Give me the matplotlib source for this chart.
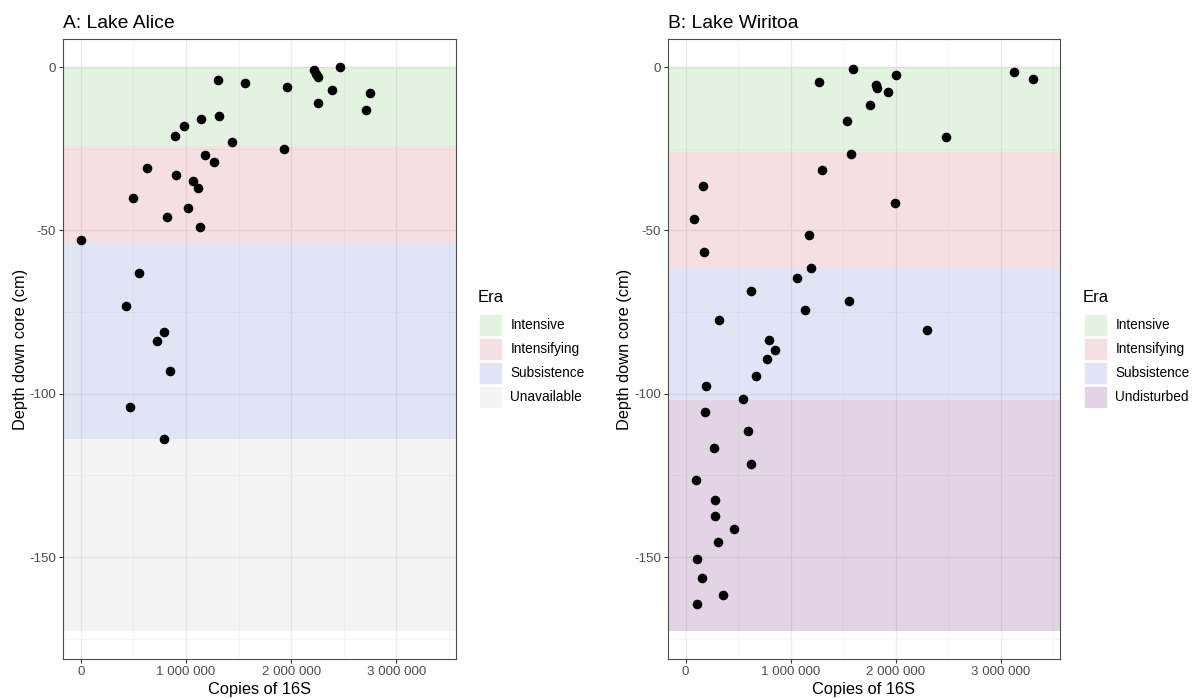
import matplotlib.pyplot as plt
from matplotlib.patches import Patch
from matplotlib.ticker import FuncFormatter, MultipleLocator

plt.rcParams['font.family'] = ['Liberation Sans', 'DejaVu Sans']
plt.rcParams['axes.unicode_minus'] = False

# Lake Alice core: 16S copies vs depth
alice_copies = [0, 1.30e6, 1.565e6, 1.965e6, 2.216e6, 2.238e6, 2.26e6, 2.467e6, 2.393e6,
                2.755e6, 2.254e6, 2.711e6, 1.311e6, 1.14e6, 0.978e6, 0.898e6, 1.441e6,
                1.93e6, 1.181e6, 1.267e6, 0.629e6, 0.908e6, 1.063e6, 1.117e6, 0.498e6,
                1.022e6, 0.822e6, 1.133e6, 0.549e6, 0.425e6, 0.79e6, 0.724e6, 0.845e6,
                0.467e6, 0.787e6]
alice_depth = [-53, -4, -5, -6, -1, -2, -3, 0, -7, -8, -11, -13, -15, -16, -18, -21, -23,
               -25, -27, -29, -31, -33, -35, -37, -40, -43, -46, -49, -63, -73, -81, -84,
               -93, -104, -114]

# Lake Wiritoa core
wiritoa_copies = [1.596e6, 1.27e6, 2.003e6, 1.815e6, 1.822e6, 1.924e6, 1.755e6, 1.539e6,
                  2.479e6, 3.13e6, 3.307e6, 1.577e6, 1.298e6, 0.162e6, 1.99e6, 0.076e6,
                  1.177e6, 0.171e6, 1.193e6, 1.06e6, 0.619e6, 1.558e6, 1.133e6, 0.32e6,
                  2.298e6, 0.793e6, 0.85e6, 0.777e6, 0.666e6, 0.196e6, 0.546e6, 0.187e6,
                  0.59e6, 0.272e6, 0.619e6, 0.095e6, 0.282e6, 0.279e6, 0.463e6, 0.307e6,
                  0.111e6, 0.152e6, 0.352e6, 0.111e6]
wiritoa_depth = [-0.5, -4.5, -2.5, -5.5, -6.5, -7.5, -11.5, -16.5, -21.5, -1.5, -3.5, -26.5,
                 -31.5, -36.5, -41.5, -46.5, -51.5, -56.5, -61.5, -64.5, -68.5, -71.5, -74.5,
                 -77.5, -80.5, -83.5, -86.5, -89.5, -94.5, -97.5, -101.5, -105.5, -111.5,
                 -116.5, -121.5, -126.5, -132.5, -137.5, -141.5, -145.5, -150.5, -156.5,
                 -161.5, -164.5]

# Era bands (top, bottom) in cm
alice_eras = ['Intensive', 'Intensifying', 'Subsistence', 'Unavailable']
alice_bands = [(0, -24.2), (-24.2, -54), (-54, -113.9), (-113.9, -172.6)]
wiritoa_eras = ['Intensive', 'Intensifying', 'Subsistence', 'Undisturbed']
wiritoa_bands = [(0, -25.9), (-25.9, -61.9), (-61.9, -101.9), (-101.9, -172.6)]

# fill drawn at alpha 0.2, key colours are the blended result on white
era_fill = {'Intensive': '#6EC364', 'Intensifying': '#C8646E', 'Subsistence': '#6978C8',
            'Unavailable': '#C8C8C8', 'Undisturbed': '#6E2878'}
era_key = {'Intensive': '#E2F3E0', 'Intensifying': '#F4E0E2', 'Subsistence': '#E1E4F4',
           'Unavailable': '#F4F4F4', 'Undisturbed': '#E2D4E4'}

W, H = 1195, 698
fig = plt.figure(figsize=(W / 100, H / 100), dpi=100)


def draw_panel(left, title, copies, depth, eras, bands, legend_x):
    ax = fig.add_axes([left / W, 1 - 659 / H, 392.5 / W, 620 / H])
    ax.set_xlim(-0.171e6, 3.565e6)
    ax.set_ylim(-181.2, 8.6)

    ax.set_axisbelow(True)
    ax.xaxis.set_major_locator(MultipleLocator(1e6))
    ax.xaxis.set_minor_locator(MultipleLocator(0.5e6))
    ax.yaxis.set_major_locator(MultipleLocator(50))
    ax.yaxis.set_minor_locator(MultipleLocator(25))
    ax.grid(which='major', color='#EBEBEB', lw=0.9)
    ax.grid(which='minor', color='#F2F2F2', lw=0.5)
    ax.tick_params(which='minor', length=0)
    ax.tick_params(which='major', length=3, width=0.8, color='#333333',
                   labelcolor='#4D4D4D', labelsize=9.6, pad=2)
    ax.xaxis.set_major_formatter(FuncFormatter(lambda v, p: f'{v:,.0f}'.replace(',', ' ')))
    for s in ax.spines.values():
        s.set_color('#4D4D4D')
        s.set_linewidth(0.8)

    for era, (top, bot) in zip(eras, bands):
        ax.axhspan(bot, top, color=era_fill[era], alpha=0.2, lw=0, zorder=1)

    ax.scatter(copies, depth, s=48, color='black', zorder=3, linewidths=0)

    ax.set_xlabel('Copies of 16S', fontsize=11.8, labelpad=3)
    ax.set_ylabel('Depth down core (cm)', fontsize=11.8, labelpad=1)
    fig.text(left / W, 1 - 23 / H, title, fontsize=13.9, va='center', ha='left')

    # legend: title as its own text, keys below it
    fig.text(legend_x / W, 1 - 298 / H, 'Era', fontsize=12, va='center', ha='left')
    handles = [Patch(facecolor=era_key[e], edgecolor='white', lw=0.5) for e in eras]
    fig.legend(handles, eras, loc='upper left',
               bbox_to_anchor=((legend_x + 1) / W, 1 - 314 / H), frameon=False,
               fontsize=9.8, handlelength=1.7, handleheight=2.11, labelspacing=0.15,
               handletextpad=0.6, borderpad=0, borderaxespad=0)
    return ax


draw_panel(63, 'A: Lake Alice', alice_copies, alice_depth, alice_eras, alice_bands, 478)
draw_panel(667.7, 'B: Lake Wiritoa', wiritoa_copies, wiritoa_depth, wiritoa_eras,
           wiritoa_bands, 1083)

fig.savefig('out.png', dpi=100)
